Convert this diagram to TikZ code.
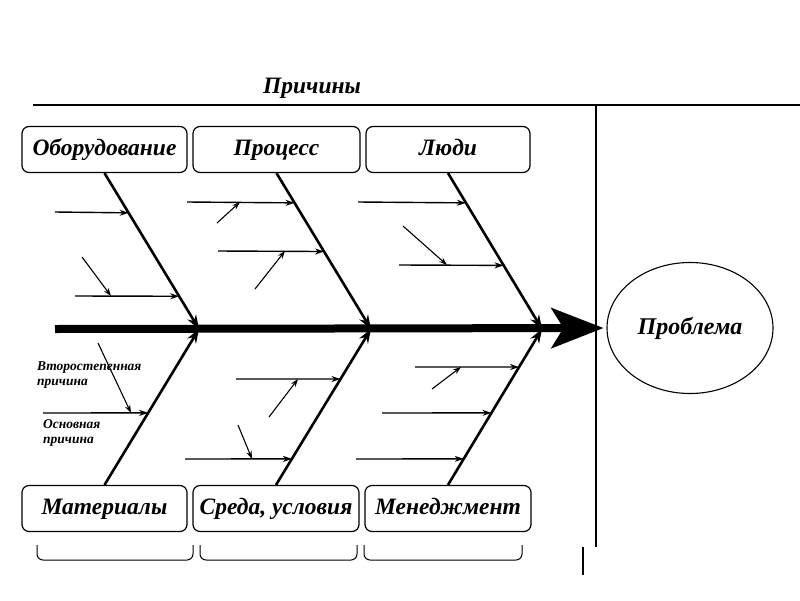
\documentclass[tikz,border=0pt]{standalone}
\usepackage{fontspec}
\setmainfont{Liberation Serif}
\usetikzlibrary{arrows.meta,calc,shapes.geometric}
\begin{document}
\begin{tikzpicture}[x=1pt,y=-1pt,
 cat/.style={draw,rounded corners=7pt,line width=1.2pt,minimum width=165pt,minimum height=46pt,font=\fontsize{23.5}{26}\selectfont\bfseries\itshape,inner sep=0pt,text height=16pt,text depth=5pt},
 bone/.style={line width=2.6pt,-{Stealth[length=14pt,width=10pt]}},
 sub/.style={line width=1.4pt,-{Stealth[length=9pt,width=6pt]}},
 sec/.style={line width=1.1pt,-{Stealth[length=8pt,width=5.5pt]}},
 note/.style={font=\fontsize{13.5}{15}\selectfont\bfseries\itshape,align=left,inner sep=0pt,anchor=west},
 frame/.style={line width=1.2pt},
 ghost/.style={line width=1pt,rounded corners=6pt}]
\useasboundingbox (0,0) rectangle (800,600);

% title and frame lines
\node[font=\fontsize{23.5}{26}\selectfont\bfseries\itshape] (title) at (312,88) {Причины};
\coordinate (tl) at (33,105);
\coordinate (tr) at (800,105);
\coordinate (vt) at (596,105);
\coordinate (vb) at (596,547);
\draw[frame] (tl) -- (tr);
\draw[frame] (vt) -- (vb);

% category boxes
\node[cat] (ob) at (104.5,149.5) {Оборудование};
\node[cat,minimum width=167pt] (pr) at (276.5,149.5) {Процесс};
\node[cat,minimum width=164pt] (lu) at (448,149.5) {Люди};
\node[cat] (ma) at (104.5,508.5) {Материалы};
\node[cat,minimum width=166pt] (sr) at (276,508.5) {Среда, условия};
\node[cat,minimum width=166pt] (me) at (448,508.5) {Менеджмент};

% problem
\node[ellipse,draw,line width=1.1pt,minimum width=166pt,minimum height=131pt,inner sep=0pt,font=\fontsize{24}{26}\selectfont\bfseries\itshape] (prob) at (690,328) {Проблема};

% spine
\coordinate (s0) at (55,329);
\coordinate (j1) at (199,329);
\coordinate (j2) at (371,329);
\coordinate (j3) at (542,329);
\draw[line width=8pt,-{Stealth[length=52pt,width=40pt,inset=12pt]},shorten >=3pt] (s0) -- (prob.west);

% bones
\draw[bone] (ob.south) -- (j1);
\draw[bone] (pr.south) -- (j2);
\draw[bone] (lu.south) -- (j3);
\draw[bone] (ma.north) -- (j1);
\draw[bone] (sr.north) -- (j2);
\draw[bone] (me.north) -- (j3);

% main causes (top)
\coordinate (a1) at (55,212);
\coordinate (a2) at (75,296);
\draw[sub] (a1) -- ($(ob.south)!0.255!(j1)$);
\draw[sub] (a2) -- ($(ob.south)!0.790!(j1)$);
\coordinate (b1) at (187,202);
\coordinate (b2) at (218,251);
\draw[sub] (b1) -- ($(pr.south)!0.191!(j2)$);
\draw[sub] (b2) -- ($(pr.south)!0.503!(j2)$);
\coordinate (c1) at (358,202);
\coordinate (c2) at (399,265);
\draw[sub] (c1) -- ($(lu.south)!0.191!(j3)$);
\draw[sub] (c2) -- ($(lu.south)!0.592!(j3)$);

% main causes (bottom)
\coordinate (d1) at (43,413);
\draw[sub] (d1) -- ($(ma.north)!0.462!(j1)$);
\coordinate (e1) at (236,379);
\coordinate (e2) at (185,459);
\draw[sub] (e1) -- ($(sr.north)!0.679!(j2)$);
\draw[sub] (e2) -- ($(sr.north)!0.167!(j2)$);
\coordinate (f1) at (415,367);
\coordinate (f2) at (382,413);
\coordinate (f3) at (356,459);
\draw[sub] (f1) -- ($(me.north)!0.756!(j3)$);
\draw[sub] (f2) -- ($(me.north)!0.462!(j3)$);
\draw[sub] (f3) -- ($(me.north)!0.167!(j3)$);

% secondary causes
\coordinate (sa0) at (82,257);  \coordinate (sa1) at (111,296);
\coordinate (sb0) at (217,223); \coordinate (sb1) at (240,202);
\coordinate (sc0) at (255,289); \coordinate (sc1) at (285,251);
\coordinate (sd0) at (403,226); \coordinate (sd1) at (447,265);
\coordinate (se0) at (98,343);  \coordinate (se1) at (131,413);
\coordinate (sf0) at (269,417); \coordinate (sf1) at (298,379);
\coordinate (sg0) at (238,425); \coordinate (sg1) at (252,459);
\coordinate (sh0) at (432,389); \coordinate (sh1) at (461,367);
\foreach \p in {sa,sb,sc,sd,se,sf,sg,sh} \draw[sec] (\p0) -- (\p1);

% legend notes
\node[note] (n1) at (37,375) {Второстепенная\\причина};
\node[note] (n2) at (43,433) {Основная\\причина};

% ghost artifacts at the bottom
\draw[ghost] (37,545) -- (37,560) -- (193,560) -- (193,545);
\draw[ghost] (200,545) -- (200,560) -- (357,560) -- (357,545);
\draw[ghost] (364,545) -- (364,560) -- (522,560) -- (522,545);
\coordinate (g1) at (583,547);
\coordinate (g2) at (583,575);
\draw[frame] (g1) -- (g2);
\end{tikzpicture}
\end{document}
